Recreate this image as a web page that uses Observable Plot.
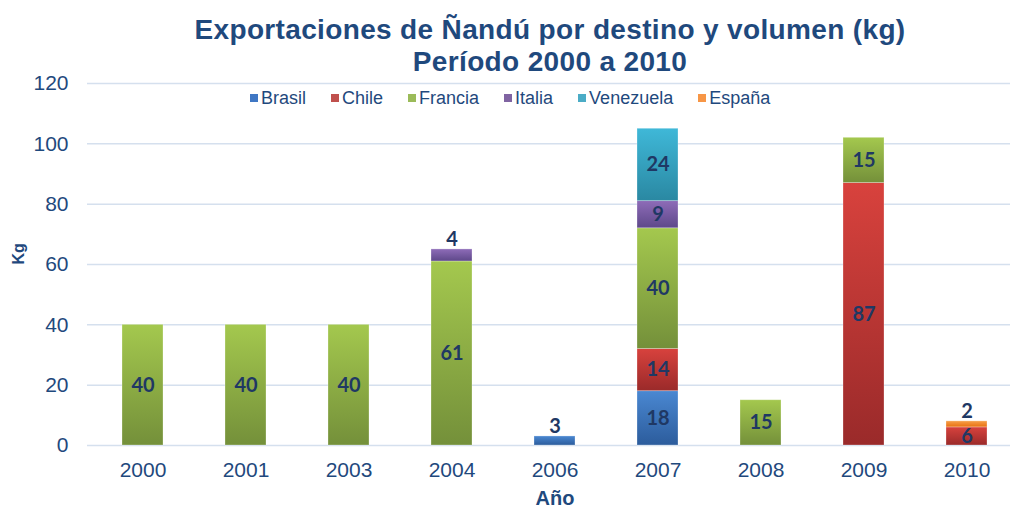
<!DOCTYPE html>
<html><head><meta charset="utf-8">
<script src="https://cdn.jsdelivr.net/npm/d3@7"></script>
<script src="https://cdn.jsdelivr.net/npm/@observablehq/plot@0.6"></script>
<style>
body{margin:0;background:#fff;font-family:"Liberation Sans",Arial,sans-serif;overflow:hidden}
#wrap{position:relative;width:1010px;height:508px;overflow:hidden}
#title{height:75px;box-sizing:border-box;padding-top:14px;padding-left:90px;text-align:center;color:#1f497d;font-weight:bold;font-size:28px;line-height:32px;letter-spacing:0.35px;white-space:nowrap}
#legend{position:absolute;top:88px;left:250px;display:flex;font-size:18px;color:#1f497d;line-height:20px}
#legend .it{display:flex;align-items:center;margin-right:25px}
#legend .sw{width:8px;height:8px;margin-right:3px}
</style></head>
<body><div id="wrap">
<div id="title">Exportaciones de Ñandú por destino y volumen (kg)<br>Período 2000 a 2010</div>
<div id="chart"></div>
<div id="legend"></div>
</div>
<script>
const years = ["2000","2001","2003","2004","2006","2007","2008","2009","2010"];
const countries = ["Brasil","Chile","Francia","Italia","Venezuela","España"];
const brasil    = [0,0,0,0,3,18,0,0,0];
const chile     = [0,0,0,0,0,14,0,87,6];
const francia   = [40,40,40,61,0,40,15,15,0];
const italia    = [0,0,0,4,0,9,0,0,0];
const venezuela = [0,0,0,0,0,24,0,0,0];
const espana    = [0,0,0,0,0,0,0,0,2];
const yTicks = [0,20,40,60,80,100,120];

const legendColors = ["#3f77c4","#c0504d","#9bbb59","#8064a2","#4bacc6","#f79646"];
const gradTop    = ["#4a88d2","#d8423d","#a4c84e","#8e6cb8","#3fb8d8","#f7a04a"];
const gradBottom = ["#2c5c9c","#9a2a2a","#74903a","#5e488a","#2a88a2","#e8700f"];

const series = [brasil, chile, francia, italia, venezuela, espana];
const rows = [];
years.forEach((yr, i) => {
  countries.forEach((c, j) => {
    const v = series[j][i];
    if (v > 0) rows.push({year: yr, country: c, value: v});
  });
});

const gradIds = countries.map((c, j) => "grad" + j);

function defs() {
  const ns = "http://www.w3.org/2000/svg";
  const g = document.createElementNS(ns, "defs");
  countries.forEach((c, j) => {
    const lg = document.createElementNS(ns, "linearGradient");
    lg.setAttribute("id", gradIds[j]);
    lg.setAttribute("x1", "0"); lg.setAttribute("y1", "0");
    lg.setAttribute("x2", "0"); lg.setAttribute("y2", "1");
    const s1 = document.createElementNS(ns, "stop");
    s1.setAttribute("offset", "0"); s1.setAttribute("stop-color", gradTop[j]);
    const s2 = document.createElementNS(ns, "stop");
    s2.setAttribute("offset", "1"); s2.setAttribute("stop-color", gradBottom[j]);
    lg.appendChild(s1); lg.appendChild(s2);
    g.appendChild(lg);
  });
  return g;
}

const labelColor = "#1f3864";
const chart = Plot.plot({
  width: 1010,
  height: 433,
  marginLeft: 87,
  marginRight: -12,
  marginTop: 8,
  marginBottom: 63,
  style: {fontFamily: '"Liberation Sans", Arial, sans-serif', background: "transparent", overflow: "visible"},
  x: {domain: years, paddingInner: 0.6, paddingOuter: 0.3, label: null},
  y: {domain: [0, 120], label: null},
  color: {domain: countries, range: gradIds.map(id => `url(#${id})`)},
  marks: [
    defs,
    Plot.ruleY(yTicks, {stroke: "#d5e0ee", strokeWidth: 1.5}),
    Plot.axisY(yTicks, {tickSize: 0, tickPadding: 19, fontSize: 21, fill: "#1f497d", label: null}),
    Plot.axisX({tickSize: 0, tickPadding: 17, fontSize: 21, fill: "#1f497d", label: null}),
    Plot.barY(rows, {x: "year", y: "value", fill: "country", stroke: "#ffffff", strokeOpacity: 0.35, strokeWidth: 0.8}),
    Plot.text(rows, Plot.stackY({x: "year", y: "value", text: d => d.value >= 5 ? String(d.value) : "",
      fill: labelColor, fontSize: 20, fontWeight: "bold", fontFamily: "Lato, sans-serif"})),
    Plot.text(rows, Plot.stackY2({x: "year", y: "value", text: d => d.value < 5 ? String(d.value) : "",
      fill: labelColor, fontSize: 20, fontWeight: "bold", fontFamily: "Lato, sans-serif", lineAnchor: "bottom", dy: -3})),
    Plot.text(["Año"], {frameAnchor: "bottom", lineAnchor: "middle", dy: 53, fontSize: 20, fontWeight: "bold", fill: "#1f497d"}),
    Plot.text(["Kg"], {frameAnchor: "left", lineAnchor: "middle", dx: -69, rotate: -90, fontSize: 16, fontWeight: "bold", fill: "#1f497d"})
  ]
});
document.getElementById("chart").appendChild(chart);

const leg = document.getElementById("legend");
countries.forEach((c, j) => {
  const it = document.createElement("div"); it.className = "it";
  const sw = document.createElement("div"); sw.className = "sw"; sw.style.background = legendColors[j];
  const t = document.createElement("span"); t.textContent = c;
  it.appendChild(sw); it.appendChild(t); leg.appendChild(it);
});
</script>
</body></html>
